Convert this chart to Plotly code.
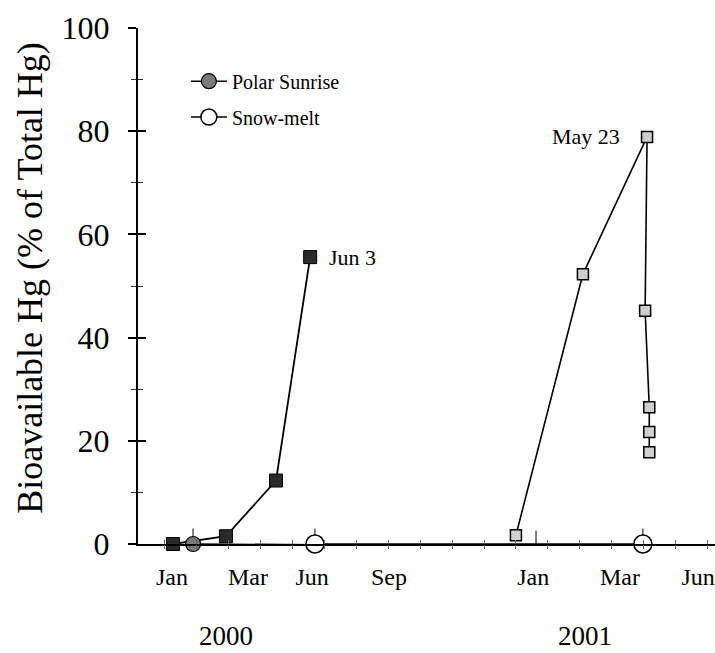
import plotly.graph_objects as go

# Horizontal positions are on the drawn time scale (one unit per minor tick, roughly a month)
month_pos = [0.22, 2.60, 4.61, 7.02, 11.54, 14.26, 16.71]
month_text = ["Jan", "Mar", "Jun", "Sep", "Jan", "Mar", "Jun"]
year_pos = [1.91, 13.17]
year_text = ["2000", "2001"]

# Bioavailable Hg (% of total Hg), 2000 season
s2000_x = [0.25, 1.91, 3.48, 4.55]
s2000_y = [0.0, 1.5, 12.3, 55.6]

# Bioavailable Hg (% of total Hg), 2001 season
s2001_x = [11.00, 13.10, 15.11, 15.05, 15.18, 15.18, 15.18]
s2001_y = [1.7, 52.3, 78.9, 45.2, 26.5, 21.7, 17.8]

# Event markers
polar_x = [0.88, 11.63]
polar_y = [0.0, -0.4]
snow_x = [4.70, 14.98]
snow_y = [0.0, 0.0]
event_bar = [3.0, 3.0]

x_range = [-0.846, 17.24]
y_range = [0, 100]

SERIF = "Liberation Serif"

fig = go.Figure()

fig.add_trace(go.Scatter(
    x=s2000_x, y=s2000_y, mode="lines+markers", showlegend=False,
    line=dict(color="black", width=1.8),
    marker=dict(symbol="square", size=13, color="#2a2a2a",
                line=dict(color="black", width=1)),
    cliponaxis=False,
))

fig.add_trace(go.Scatter(
    x=s2001_x, y=s2001_y, mode="lines+markers", showlegend=False,
    line=dict(color="black", width=1.6),
    marker=dict(symbol="square", size=11, color="#cfcfcf",
                line=dict(color="black", width=1.5)),
    cliponaxis=False,
))

fig.add_trace(go.Scatter(
    x=polar_x, y=polar_y, mode="lines+markers", name="Polar Sunrise",
    legend="legend",
    line=dict(color="black", width=1.5),
    marker=dict(symbol="circle", size=15, color="#7a7a7a",
                line=dict(color="black", width=1.2)),
    error_y=dict(type="data", array=event_bar, symmetric=True,
                 color="black", thickness=1, width=0),
    cliponaxis=False,
))

fig.add_trace(go.Scatter(
    x=snow_x, y=snow_y, mode="lines+markers", name="Snow-melt",
    legend="legend2",
    line=dict(color="black", width=1.5),
    marker=dict(symbol="circle", size=18, color="white",
                line=dict(color="black", width=1.5)),
    error_y=dict(type="data", array=event_bar, symmetric=True,
                 color="black", thickness=1, width=0),
    cliponaxis=False,
))

# Point labels
fig.add_annotation(x=s2000_x[3], y=s2000_y[3], text="Jun 3", showarrow=False,
                   xanchor="left", xshift=17, font=dict(family=SERIF, size=22, color="black"))
fig.add_annotation(x=s2001_x[2], y=s2001_y[2], text="May 23", showarrow=False,
                   xanchor="right", xshift=-25, font=dict(family=SERIF, size=22, color="black"))

# Year labels under the month labels
for xp, yt in zip(year_pos, year_text):
    fig.add_annotation(x=xp, y=0, xref="x", yref="y", text=yt, showarrow=False,
                       yshift=-92, font=dict(family=SERIF, size=27, color="black"))

# Y axis title
fig.add_annotation(xref="paper", yref="paper", x=-0.187, y=0.516,
                   xanchor="center", yanchor="middle",
                   text="Bioavailable Hg (% of Total Hg)", textangle=-90, showarrow=False,
                   font=dict(family=SERIF, size=36, color="black"))

axis_common = dict(showgrid=False, zeroline=False)

fig.update_layout(
    width=715, height=653,
    margin=dict(l=138, r=0, t=28, b=109),
    paper_bgcolor="white", plot_bgcolor="white",
    font=dict(family=SERIF, color="black"),
    xaxis=dict(range=x_range, tickmode="array", tickvals=month_pos, ticktext=month_text,
               ticks="", showline=True, linecolor="black", linewidth=2,
               tickfont=dict(family=SERIF, size=24, color="black"),
               ticklabelstandoff=10, **axis_common),
    xaxis2=dict(range=x_range, overlaying="x", anchor="y", side="bottom",
                tick0=0, dtick=1, ticks="outside", ticklen=4, tickwidth=1,
                tickcolor="#666", showticklabels=False, showline=False, **axis_common),
    xaxis3=dict(range=x_range, overlaying="x", anchor="y", side="bottom",
                tick0=0, dtick=1, ticks="inside", ticklen=4, tickwidth=1,
                tickcolor="#666", showticklabels=False, showline=False, **axis_common),
    yaxis=dict(range=y_range, tick0=0, dtick=20, ticks="outside", ticklen=8, tickwidth=1.5,
               tickcolor="black", showline=True, linecolor="black", linewidth=2,
               minor=dict(dtick=10, ticks="outside", ticklen=5, tickwidth=1, tickcolor="#333"),
               tickfont=dict(family=SERIF, size=32, color="black"),
               ticklabelstandoff=12, **axis_common),
    yaxis2=dict(range=y_range, overlaying="y", anchor="x", side="left",
                tick0=0, dtick=20, ticks="inside", ticklen=8, tickwidth=1.5,
                tickcolor="black", showticklabels=False, showline=False,
                minor=dict(dtick=10, ticks="inside", ticklen=5, tickwidth=1, tickcolor="#333"),
                **axis_common),
    legend=dict(x=0.083, y=0.897, xanchor="left", yanchor="middle", itemwidth=36,
                bgcolor="rgba(0,0,0,0)", font=dict(family=SERIF, size=20, color="black")),
    legend2=dict(x=0.083, y=0.8275, xanchor="left", yanchor="middle", itemwidth=36,
                 bgcolor="rgba(0,0,0,0)", font=dict(family=SERIF, size=20, color="black")),
)

# Empty traces so the overlay tick axes are drawn
fig.add_trace(go.Scatter(x=[], y=[], xaxis="x2", yaxis="y2", showlegend=False, hoverinfo="skip"))
fig.add_trace(go.Scatter(x=[], y=[], xaxis="x3", yaxis="y2", showlegend=False, hoverinfo="skip"))

fig.write_html("out.html")
